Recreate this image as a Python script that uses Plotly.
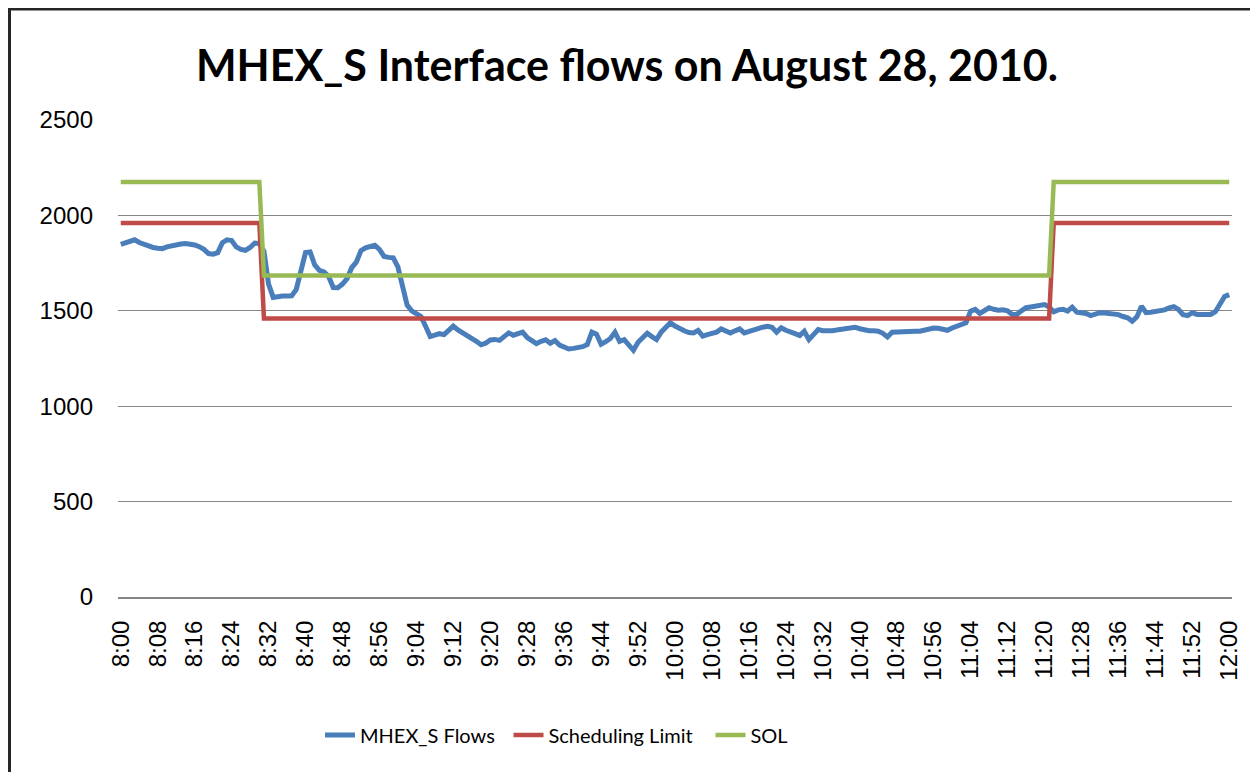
import plotly.graph_objects as go

# the page body adds an 8px margin, so figure pixels = page pixels - OFF
OFF = 8
W, H = 1258 - OFF, 772 - OFF

# minute categories 8:00 .. 12:00
minutes = [f"{8 + m // 60}:{m % 60:02d}" for m in range(241)]

tick_labels = ["8:00", "8:08", "8:16", "8:24", "8:32", "8:40", "8:48", "8:56",
               "9:04", "9:12", "9:20", "9:28", "9:36", "9:44", "9:52", "10:00",
               "10:08", "10:16", "10:24", "10:32", "10:40", "10:48", "10:56",
               "11:04", "11:12", "11:20", "11:28", "11:36", "11:44", "11:52", "12:00"]

flows = [
    1848, 1856, 1866, 1872, 1858, 1848, 1838, 1832, 1828, 1826,
    1835, 1842, 1846, 1850, 1853, 1850, 1845, 1836, 1822, 1800,
    1797, 1805, 1857, 1872, 1868, 1835, 1822, 1817, 1832, 1855,
    1852, 1812, 1640, 1570, 1575, 1577, 1577, 1578, 1612, 1710,
    1805, 1808, 1740, 1712, 1704, 1680, 1622, 1621, 1640, 1668,
    1726, 1755, 1815, 1830, 1838, 1843, 1822, 1785, 1780, 1778,
    1730, 1640, 1530, 1500, 1488, 1470, 1419, 1365, 1372, 1380,
    1375, 1400, 1420, 1400, 1385, 1375, 1355, 1340, 1322, 1330,
    1347, 1350, 1345, 1365, 1384, 1372, 1380, 1388, 1360, 1340,
    1328, 1340, 1348, 1330, 1344, 1320, 1310, 1300, 1303, 1306,
    1312, 1323, 1388, 1378, 1325, 1338, 1355, 1388, 1340, 1349,
    1320, 1293, 1335, 1360, 1382, 1365, 1349, 1388, 1410, 1437,
    1420, 1405, 1395, 1386, 1384, 1397, 1367, 1375, 1381, 1388,
    1405, 1395, 1384, 1395, 1405, 1384, 1393, 1402, 1410, 1414,
    1419, 1414, 1388, 1411, 1398, 1392, 1380, 1370, 1393, 1349,
    1380, 1402, 1396, 1393, 1396, 1399, 1402, 1408, 1414, 1414,
    1406, 1398, 1396, 1395, 1393, 1382, 1363, 1388, 1390, 1393,
    1393, 1393, 1393, 1393, 1398, 1404, 1410, 1408, 1400, 1398,
    1410, 1419, 1428, 1437, 1498, 1507, 1486, 1500, 1516, 1508,
    1503, 1505, 1500, 1481, 1481, 1500, 1516, 1520, 1524, 1530,
    1533, 1520, 1495, 1505, 1508, 1498, 1519, 1493, 1490, 1486,
    1475, 1482, 1490, 1488, 1487, 1486, 1480, 1470, 1463, 1445,
    1468, 1524, 1490, 1492, 1496, 1498, 1505, 1515, 1522, 1507,
    1480, 1475, 1490, 1481, 1481, 1481, 1481, 1495, 1542, 1575,
    1585,
]

sched_limit = [1960] * 31 + [1460] * 171 + [1960] * 39
sol = [2175] * 31 + [1685] * 171 + [2175] * 39

y_ticks = [0, 500, 1000, 1500, 2000, 2500]

BLUE, RED, GREEN = "#4A7EBB", "#BE4B48", "#98B954"
GRID = "#868686"

# plot area in page pixels
L, R, T, B = 118, 1232, 120, 597
ml, mr, mt, mb = L - OFF, W - (R - OFF), T - OFF, H - (B - OFF)


def px_x(p):
    return (p - L) / (R - L)


def px_y(p):
    return (B - p) / (B - T)


fig = go.Figure()
fig.add_trace(go.Scatter(x=minutes, y=flows, name="MHEX_S Flows", mode="lines",
                         line=dict(color=BLUE, width=5), legend="legend"))
fig.add_trace(go.Scatter(x=minutes, y=sched_limit, name="Scheduling Limit", mode="lines",
                         line=dict(color=RED, width=4.5), legend="legend2"))
fig.add_trace(go.Scatter(x=minutes, y=sol, name="SOL", mode="lines",
                         line=dict(color=GREEN, width=4.5), legend="legend3"))

LEG_FONT = dict(family="Lato, sans-serif", size=20, color="black")


def leg(xpage):
    return dict(orientation="h", x=px_x(xpage), xanchor="left",
                y=px_y(735), yanchor="middle", font=LEG_FONT,
                bgcolor="rgba(0,0,0,0)")


fig.update_layout(
    width=W, height=H,
    margin=dict(l=ml, r=mr, t=mt, b=mb, pad=0),
    paper_bgcolor="white", plot_bgcolor="white",
    title=dict(text="<b>MHEX_S Interface flows on August 28, 2010.</b>",
               x=(627 - OFF) / W, xref="container", xanchor="center",
               y=1 - (66 - OFF) / H, yref="container", yanchor="middle",
               font=dict(family="Lato, sans-serif", size=43, color="black")),
    showlegend=True,
    legend=leg(320), legend2=leg(508.5), legend3=leg(710.5),
    xaxis=dict(type="category", range=[-0.6, 240.6], tickmode="array",
               tickvals=tick_labels, ticktext=tick_labels, tickangle=-90,
               showgrid=False, showline=True, linecolor=GRID, linewidth=2,
               ticks="", ticklabelstandoff=12, zeroline=False,
               tickfont=dict(family="Liberation Sans, Arial", size=24, color="black")),
    yaxis=dict(range=[0, 2500], tickvals=y_ticks, showgrid=True, gridcolor=GRID,
               gridwidth=1, showline=False, zeroline=False, ticks="",
               ticklabelstandoff=24,
               tickfont=dict(family="Liberation Sans, Arial", size=24, color="black")),
    shapes=[
        dict(type="line", xref="paper", yref="paper", x0=px_x(9.5), x1=px_x(9.5),
             y0=px_y(8), y1=px_y(800), line=dict(color="#262626", width=3), layer="above"),
        dict(type="line", xref="paper", yref="paper", x0=px_x(8), x1=px_x(1300),
             y0=px_y(9), y1=px_y(9), line=dict(color="#262626", width=3), layer="above"),
    ],
)

fig.write_html("out.html")
